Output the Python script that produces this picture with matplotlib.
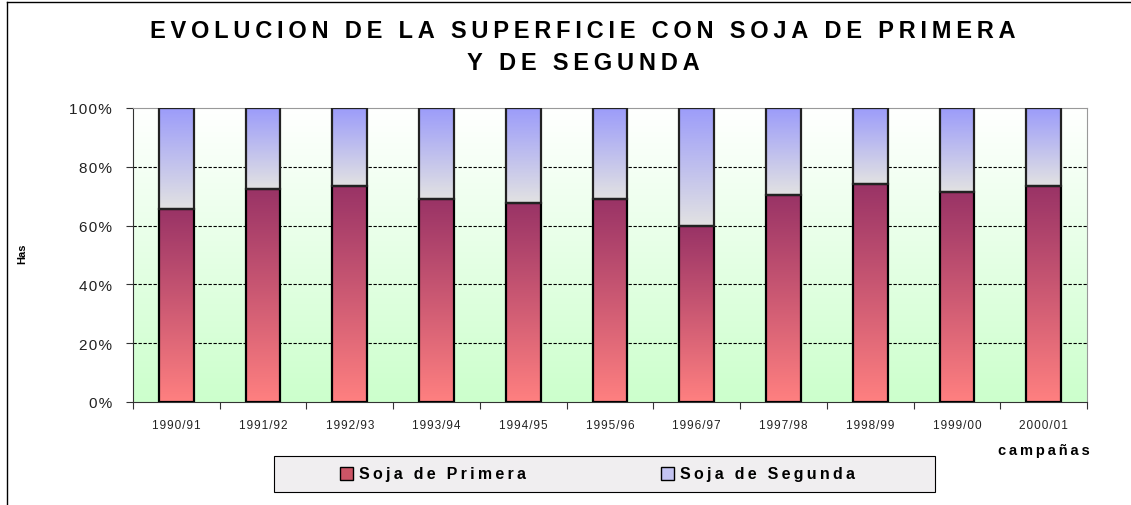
import numpy as np
import matplotlib
matplotlib.use('Agg')
import matplotlib.pyplot as plt
from matplotlib.colors import LinearSegmentedColormap
from matplotlib.patches import Rectangle
from matplotlib.lines import Line2D

# campañas y superficie (%)
campanias = ['1990/91', '1991/92', '1992/93', '1993/94', '1994/95', '1995/96',
             '1996/97', '1997/98', '1998/99', '1999/00', '2000/01']
soja_primera = [65.8, 72.5, 73.6, 69.2, 67.8, 69.2, 59.7, 70.5, 74.2, 71.5, 73.6]
soja_segunda = [34.2, 27.5, 26.4, 30.8, 32.2, 30.8, 40.3, 29.5, 25.8, 28.5, 26.4]
series_names = ['Soja de Primera', 'Soja de Segunda']
y_ticks = [0, 20, 40, 60, 80, 100]

FAM = ['Liberation Sans', 'DejaVu Sans']
plt.rcParams['font.family'] = FAM


def spaced(s, sep='\u200a'):
    # imitate the wide letter spacing of the original
    return sep.join(s)


total = np.array(soja_primera) + np.array(soja_segunda)
pct_primera = np.array(soja_primera) / total * 100
pct_segunda = np.array(soja_segunda) / total * 100

W, H = 1131, 506
fig = plt.figure(figsize=(W / 100, H / 100), dpi=100)
ax = fig.add_axes([133 / W, 1 - 403 / H, (1087 - 133) / W, (403 - 109) / H])

x = np.arange(len(campanias))
width = 0.4

# background gradient: white at top -> light green at bottom
bg_cmap = LinearSegmentedColormap.from_list('bg', ['#ccffcc', '#ffffff'])
grad = np.linspace(0, 1, 256).reshape(-1, 1)
ax.imshow(grad, extent=[-0.5, 10.5, 0, 100], origin='lower', aspect='auto',
          cmap=bg_cmap, zorder=0)

for yv in [20, 40, 60, 80]:
    ax.axhline(yv, color='black', linestyle=(0, (3, 1.5)), linewidth=0.8, zorder=1)

cmap_p = LinearSegmentedColormap.from_list('p', ['#ff8080', '#993366'])
cmap_s = LinearSegmentedColormap.from_list('s', ['#e2e2e2', '#9c9cfa'])

bars_p = ax.bar(x, pct_primera, width, facecolor='none', edgecolor='black',
                linewidth=1.6, zorder=3)
bars_s = ax.bar(x, pct_segunda, width, bottom=pct_primera, facecolor='none',
                edgecolor='#222222', linewidth=1.6, zorder=3)

for bars, cm in [(bars_p, cmap_p), (bars_s, cmap_s)]:
    for b in bars:
        x0, y0 = b.get_x(), b.get_y()
        im = ax.imshow(grad, extent=[x0, x0 + b.get_width(), y0, y0 + b.get_height()],
                       origin='lower', aspect='auto', cmap=cm, zorder=2)
        im.set_clip_path(b)

ax.set_xlim(-0.5, 10.5)
ax.set_ylim(0, 100)

# ticks at the category boundaries, labels at the centres
ax.set_xticks(np.arange(-0.5, 11, 1))
ax.set_xticklabels([])
ax.set_xticks(x, minor=True)
ax.set_xticklabels([spaced(c) for c in campanias], minor=True, fontsize=8.5,
                   color='#222222')
ax.tick_params(axis='x', which='major', direction='out', length=5, width=0.8,
               color='#333333')
ax.tick_params(axis='x', which='minor', length=0, pad=12)

ax.set_yticks(y_ticks)
ax.set_yticklabels([spaced(f'{v}%') for v in y_ticks], fontsize=11, color='#222222')
ax.tick_params(axis='y', direction='out', length=5, width=0.8, color='#333333', pad=10)

for side in ['top', 'right']:
    ax.spines[side].set_color('#999999')
ax.spines['left'].set_color('#333333')
ax.spines['bottom'].set_color('#333333')

fig.text(22 / W, 1 - 254 / H, 'Has', rotation=90, fontsize=8, fontweight='bold',
         ha='center', va='center')

fig.text(583 / W, 1 - 31 / H, spaced('EVOLUCION DE LA SUPERFICIE CON SOJA DE PRIMERA', '\u2009'),
         fontsize=17, fontweight='bold', ha='center', va='center')
fig.text(583 / W, 1 - 64 / H, spaced('Y DE SEGUNDA', '\u2009'),
         fontsize=17, fontweight='bold', ha='center', va='center')

fig.text(1090 / W, 1 - 451 / H, spaced('campañas', '\u2009'), fontsize=10.5,
         fontweight='bold', ha='right', va='center')

# legend box drawn by hand to match the original layout
fig.add_artist(Rectangle((274 / W, 1 - 493 / H), 661 / W, 36 / H, transform=fig.transFigure,
                         facecolor='#f0eef0', edgecolor='black', linewidth=0.8))
leg_colors = [('#cc5566', 340), ('#c4c4f2', 661)]
for (col, px), name in zip(leg_colors, series_names):
    fig.add_artist(Rectangle((px / W, 1 - 481 / H), 13 / W, 13 / H, transform=fig.transFigure,
                             facecolor=col, edgecolor='black', linewidth=1))
    fig.text((px + 19) / W, 1 - 479 / H, spaced(name, '\u2009'), fontsize=11.5,
             fontweight='bold', ha='left', va='baseline')

# outer chart border (top and left)
fig.add_artist(Line2D([7 / W, 1], [1 - 3 / H, 1 - 3 / H], color='black', linewidth=1))
fig.add_artist(Line2D([7 / W, 7 / W], [0, 1 - 3 / H], color='black', linewidth=1))

fig.savefig('out.png', dpi=100)
